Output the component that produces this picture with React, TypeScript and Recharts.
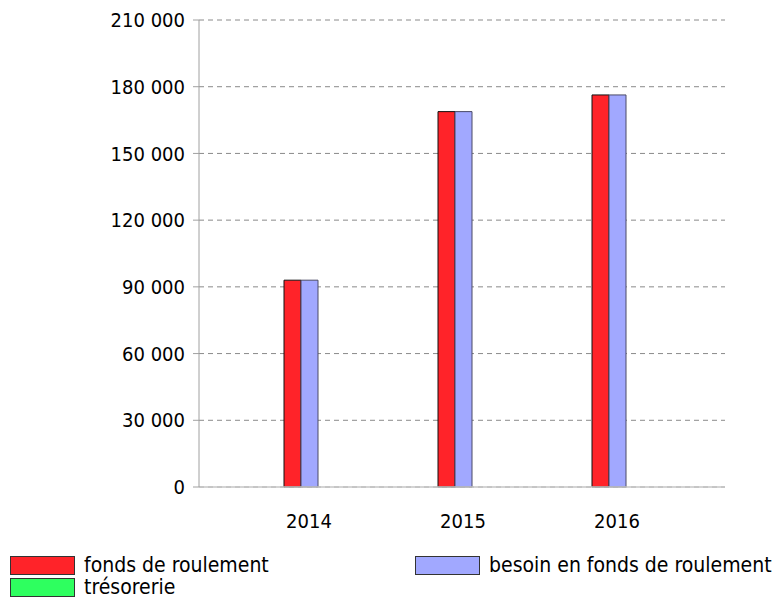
import { BarChart, Bar, XAxis, YAxis, CartesianGrid, Legend } from 'recharts';

const years = ['2014', '2015', '2016'];
const fondsDeRoulement = [93000, 168800, 176300];
const besoinFondsRoulement = [93000, 168800, 176300];
const tresorerie = [0, 0, 0];
const yTicks = [0, 30000, 60000, 90000, 120000, 150000, 180000, 210000];

const seriesInfo = [
    { key: 'fdr', name: 'fonds de roulement', color: '#ff2329', stroke: '#111111' },
    { key: 'bfr', name: 'besoin en fonds de roulement', color: '#a1a8ff', stroke: '#4a4a66' },
    { key: 'tre', name: 'trésorerie', color: '#2eff5f', stroke: '#111111' },
];

const data = years.map((year, i) => ({
    year,
    fdr: fondsDeRoulement[i],
    bfr: besoinFondsRoulement[i],
    tre: tresorerie[i],
}));

const fmt = (v: number) => String(v).replace(/\B(?=(\d{3})+(?!\d))/g, ' ');

const FONT = "'DejaVu Sans Condensed', 'DejaVu Sans'";

const legendSpots = [
    { left: 10, top: 6 },
    { left: 415, top: 6 },
    { left: 10, top: 28 },
];

const ChartLegend = () => (
    <div style={{ position: 'relative', width: 775, height: 48, fontFamily: FONT, fontStretch: 'condensed', fontSize: 21 }}>
        {seriesInfo.map((s, i) => (
            <div
                key={s.key}
                style={{
                    position: 'absolute',
                    left: legendSpots[i].left,
                    top: legendSpots[i].top,
                    display: 'flex',
                    alignItems: 'center',
                    whiteSpace: 'nowrap',
                    color: '#000',
                }}
            >
                <span
                    style={{
                        display: 'inline-block',
                        width: 63,
                        height: 17,
                        background: s.color,
                        border: '1px solid #333',
                        marginRight: 9,
                    }}
                />
                <span style={{ lineHeight: '19px' }}>{s.name}</span>
            </div>
        ))}
    </div>
);

const tickStyle = { fill: '#000', fontSize: 20, fontFamily: FONT, fontStretch: 'condensed' };

export default function App() {
    return (
        <div style={{ position: 'absolute', left: 0, top: 0, width: 775, height: 598, background: '#fff' }}>
            <BarChart
                width={775}
                height={598}
                data={data}
                margin={{ top: 20, right: 50, bottom: 0, left: 0 }}
                barSize={17}
                barGap={0}
            >
                <CartesianGrid vertical={false} stroke="#8a8a8a" strokeDasharray="5 4" />
                <XAxis
                    dataKey="year"
                    padding={{ left: 33, right: 31 }}
                    axisLine={{ stroke: '#c6c6c6', strokeWidth: 1.5 }}
                    tickLine={false}
                    tickSize={6}
                    tickMargin={21}
                    height={63}
                    tick={tickStyle}
                />
                <YAxis
                    width={199}
                    domain={[0, 210000]}
                    ticks={yTicks}
                    interval={0}
                    tickFormatter={fmt}
                    axisLine={{ stroke: '#a0a0a0' }}
                    tickLine={{ stroke: '#a0a0a0' }}
                    tickSize={6}
                    tickMargin={8}
                    tick={tickStyle}
                />
                <Legend
                    verticalAlign="bottom"
                    content={() => <ChartLegend />}
                    wrapperStyle={{ left: 0, bottom: 0, width: 775, height: 48 }}
                />
                {seriesInfo.map((s) => (
                    <Bar
                        key={s.key}
                        dataKey={s.key}
                        name={s.name}
                        fill={s.color}
                        stroke={s.stroke}
                        strokeWidth={1}
                        isAnimationActive={false}
                    />
                ))}
            </BarChart>
        </div>
    );
}
